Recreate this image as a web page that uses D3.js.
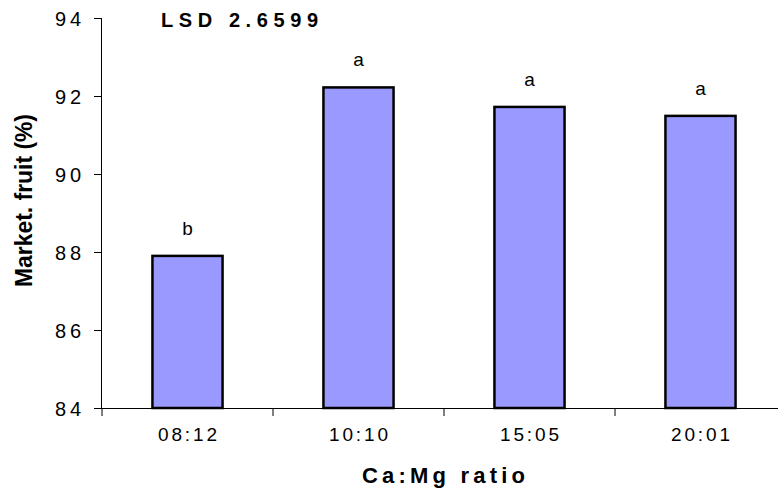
<!DOCTYPE html>
<html><head><meta charset="utf-8">
<script src="https://cdn.jsdelivr.net/npm/d3@7"></script>
<style>body{margin:0;background:#fff}svg{display:block}text{font-family:"Liberation Sans",Arial,sans-serif}</style>
</head><body>
<script>
const categories = ["08:12","10:10","15:05","20:01"];
const values = [87.9, 92.22, 91.72, 91.49];
const letters = ["b","a","a","a"];
const yTicks = [84,86,88,90,92,94];
const lsdLabel = "LSD 2.6599";
const xTitle = "Ca:Mg ratio";
const yTitle = "Market. fruit (%)";

(function(){
const W = 778, H = 491;
const svg = d3.select("body").append("svg").attr("width", W).attr("height", H);
const mLeft = 102, mTop = 18, mBottom = 408, step = 171;
const x = d3.scaleBand().domain(categories).range([mLeft, mLeft + step*categories.length]).paddingInner(0.59).paddingOuter(0.295);
const y = d3.scaleLinear().domain([84, 94]).range([mBottom, mTop]);

const ya = svg.append("g").attr("transform", `translate(${mLeft},0)`)
  .call(d3.axisLeft(y).tickValues(yTicks).tickSize(8).tickPadding(13).tickFormat(d3.format("d")));
ya.select(".domain").attr("stroke","#000").attr("d", `M-0.5,${mTop}V${mBottom}`);
ya.selectAll(".tick line").attr("stroke","#000");
ya.selectAll(".tick text").attr("font-size", 20).attr("fill","#000")
  .attr("textLength", 26).attr("lengthAdjust","spacing").attr("dy","0.36em");

const xa = svg.append("g").attr("transform", `translate(0,${mBottom})`)
  .call(d3.axisBottom(x).tickSize(0).tickPadding(20));
xa.select(".domain").attr("stroke","#000").attr("d", `M${mLeft},0.5H${W}`);
xa.selectAll(".tick text").attr("font-size", 19).attr("fill","#000")
  .attr("textLength", 59).attr("lengthAdjust","spacing").attr("dy","0.71em");
const sep = d3.range(0, categories.length).map(i => mLeft + i*step);
xa.selectAll(".sep").data(sep).enter().append("line")
  .attr("x1", d=>d).attr("x2", d=>d).attr("y1",0).attr("y2",8).attr("stroke","#000");

svg.selectAll(".bar").data(values).enter().append("rect")
  .attr("x", (d,i)=>x(categories[i])).attr("width", x.bandwidth())
  .attr("y", d=>y(d)).attr("height", d=>mBottom - y(d))
  .attr("fill","#9999FF").attr("stroke","#000").attr("stroke-width",2.5);

svg.selectAll(".lt").data(values).enter().append("text")
  .attr("x", (d,i)=>x(categories[i]) + x.bandwidth()/2)
  .attr("y", d=>y(d) - 21).attr("text-anchor","middle")
  .attr("font-size", 19).text((d,i)=>letters[i]);

svg.append("text").attr("x", 161).attr("y", 27).attr("font-size", 20).attr("font-weight","bold")
  .attr("textLength", 157).attr("lengthAdjust","spacing").text(lsdLabel);

svg.append("text").attr("x", 362).attr("y", 483).attr("font-size", 22).attr("font-weight","bold")
  .attr("textLength", 163).attr("lengthAdjust","spacing").text(xTitle);
svg.append("text").attr("transform", `translate(32,287) rotate(-90)`)
  .attr("font-size", 23).attr("font-weight","bold")
  .attr("textLength", 173).attr("lengthAdjust","spacingAndGlyphs").text(yTitle);
})();
</script>
</body></html>
